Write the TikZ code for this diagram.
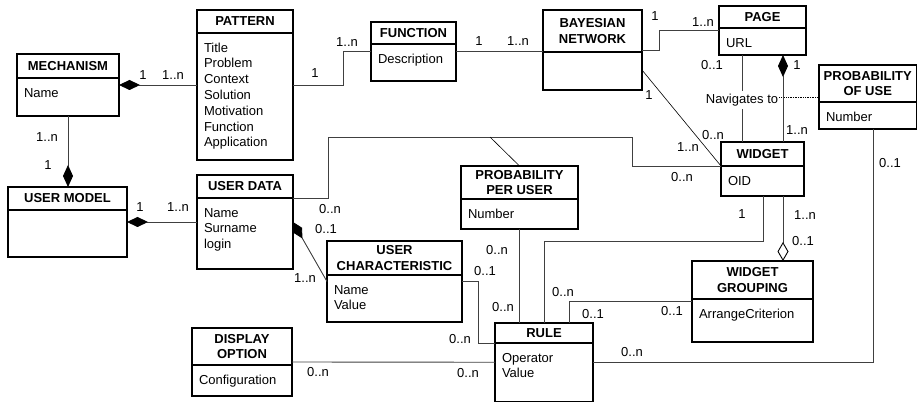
\documentclass[tikz,border=0pt]{standalone}
\usepackage{fontspec}
\setmainfont{Liberation Sans}
\usetikzlibrary{arrows.meta,fit,calc}
\tikzset{
  box/.style={draw=black, line width=1.1pt, inner sep=0pt, outer sep=0pt},
  hdr/.style={font=\fontsize{13}{15.8}\selectfont\bfseries, align=center, inner sep=0pt},
  attr/.style={font=\fontsize{13}{15.8}\selectfont, align=left, inner sep=0pt, anchor=north west},
  mult/.style={font=\fontsize{13}{15}\selectfont, inner sep=0pt},
  conn/.style={draw=black!75, line width=0.9pt},
  thinline/.style={draw=black, line width=0.6pt},
  dots/.style={draw=black, line width=0.7pt, densely dotted},
  comp/.style={conn, -{Diamond[length=21pt,width=10pt,color=black]}},
  compv/.style={conn, -{Diamond[length=22pt,width=10pt,color=black]}},
  compd/.style={conn, -{Diamond[length=19pt,width=10pt,color=black]}},
  agg/.style={conn, -{Diamond[open,length=19pt,width=11pt,color=black]}},
}
\newcommand\umlclass[8]{%
  \coordinate (#1-nw) at (#2,#3);
  \coordinate (#1-se) at (#4,#5);
  \node[box, fit=(#1-nw)(#1-se)] (#1) {};
  \draw[line width=1.1pt] (#2,#6) -- (#4,#6);
  \node[hdr] (#1-h) at ({(#2+#4)/2},{(#3+#6)/2}) {#7};
  \node[attr] (#1-a) at ({#2+6.8},{#6+7.9}) {\strut #8};
}
\begin{document}
\begin{tikzpicture}[x=1pt,y=-1pt]
\useasboundingbox (0,0) rectangle (918,403);
\umlclass{mech}{17}{54}{119}{116}{78}{MECHANISM}{Name}
\umlclass{pattern}{197}{10}{293}{160}{33}{PATTERN}{Title\\Problem\\Context\\Solution\\Motivation\\Function\\Application}
\umlclass{usermodel}{8}{187}{127}{257}{210}{USER MODEL}{}
\umlclass{userdata}{197}{175}{293}{269}{198}{USER DATA}{Name\\Surname\\login}
\umlclass{function}{371}{22}{456}{81}{44}{FUNCTION}{Description}
\umlclass{bn}{543}{10}{642}{90}{52}{BAYESIAN\\NETWORK}{}
\umlclass{page}{719}{6}{806}{55}{28}{PAGE}{URL}
\umlclass{widget}{721}{142}{804}{196}{166}{WIDGET}{OID}
\umlclass{pou}{819}{65}{916.5}{129}{102}{PROBABILITY\\OF USE}{Number}
\umlclass{ppu}{461}{166}{578}{229}{199}{PROBABILITY\\PER USER}{Number}
\umlclass{uc}{327}{241}{462}{322}{275}{USER\\CHARACTERISTIC}{Name\\Value}
\umlclass{rule}{495}{323}{593}{401.5}{343}{RULE}{Operator\\Value}
\umlclass{wg}{692}{261}{813}{342}{299}{WIDGET\\GROUPING}{ArrangeCriterion}
\umlclass{display}{192}{328}{292}{396}{365}{DISPLAY\\OPTION}{Configuration}

% connectors
\draw[comp] (pattern.west) -- (mech.east);
\draw[compv] (mech.south) -- (mech.south |- usermodel.north);
\draw[comp] (userdata.west) -- (usermodel.east);
\draw[conn] (pattern.east) -- ++(50,0) |- (function.west);
\draw[conn] (function.east) -- (function.east -| bn.west);
\draw[conn] (bn.east) -- ++(17,0) |- (page.west);
\draw[thinline] ([yshift=-20pt]bn.east) -- ([yshift=-24pt]widget.north west);
\coordinate (navx) at ([xshift=23pt]page.south west);
\draw[conn] (navx) -- (navx |- widget.north);
\node[fill=white, font=\fontsize{13}{15.8}\selectfont, inner xsep=1pt, inner ysep=3pt] (nav) at (742,100.3) {Navigates to};
\draw[dots] (nav.east |- pou.west) -- (pou.west);
\coordinate (compx) at ([xshift=-23pt]page.south east);
\draw[compv] (compx |- widget.north) -- (compx);
\draw[conn] ([xshift=54pt]pou.south west) |- (rule.east);
\coordinate (aggx) at ([xshift=-21pt]widget.south east);
\draw[agg] (aggx) -- (aggx |- wg.north);
\draw[conn] ([xshift=42pt]widget.south west) -- ++(0,45) -| (rule.north);
\draw[conn] (wg.west) -| ([xshift=25pt]rule.north);
\draw[conn] (ppu.south) -- (ppu.south |- rule.north);
\draw[conn] (uc.east) -- ++(16,0) |- ([yshift=-20pt]rule.north west);
\draw[conn] (display.east) -- (rule.west);
\coordinate (ud1) at (328,137);
\coordinate (ud2) at (632,137);
\draw[conn] ([yshift=-23pt]userdata.north east) -| (ud1) -- (ud2) |- ([yshift=-24pt]widget.north west);
\coordinate (ppulink) at (490,137);
\draw[thinline] (ppulink) -- (ppu.north);
\draw[compd] (uc.west) -- (userdata.east);

% multiplicities
\node[mult] (m1) at (143,75) {1};
\node[mult] (m2) at (173,75) {1..n};
\node[mult] (m3) at (47,137) {1..n};
\node[mult] (m4) at (48,165) {1};
\node[mult] (m5) at (140,207) {1};
\node[mult] (m6) at (178,207) {1..n};
\node[mult] (m7) at (315,73) {1};
\node[mult] (m8) at (347,42) {1..n};
\node[mult] (m9) at (479,41) {1};
\node[mult] (m10) at (518,41) {1..n};
\node[mult] (m11) at (655,16) {1};
\node[mult] (m12) at (703,22) {1..n};
\node[mult] (m13) at (649,95) {1};
\node[mult] (m14) at (688,147) {1..n};
\node[mult] (m15) at (712,65) {0..1};
\node[mult] (m16) at (713,135) {0..n};
\node[mult] (m17) at (797,65) {1};
\node[mult] (m18) at (797,130) {1..n};
\node[mult] (m19) at (890,163) {0..1};
\node[mult] (m20) at (632,352) {0..n};
\node[mult] (m21) at (805,215) {1..n};
\node[mult] (m22) at (803,241) {0..1};
\node[mult] (m23) at (742,214) {1};
\node[mult] (m24) at (563,292) {0..n};
\node[mult] (m25) at (593,314) {0..1};
\node[mult] (m26) at (672,311) {0..1};
\node[mult] (m27) at (497,250) {0..n};
\node[mult] (m28) at (503,307) {0..n};
\node[mult] (m29) at (485,271) {0..1};
\node[mult] (m30) at (460,339) {0..n};
\node[mult] (m31) at (318,372) {0..n};
\node[mult] (m32) at (468,373) {0..n};
\node[mult] (m33) at (330,209) {0..n};
\node[mult] (m34) at (682,177) {0..n};
\node[mult] (m35) at (326,229) {0..1};
\node[mult] (m36) at (305,278) {1..n};
\end{tikzpicture}
\end{document}
